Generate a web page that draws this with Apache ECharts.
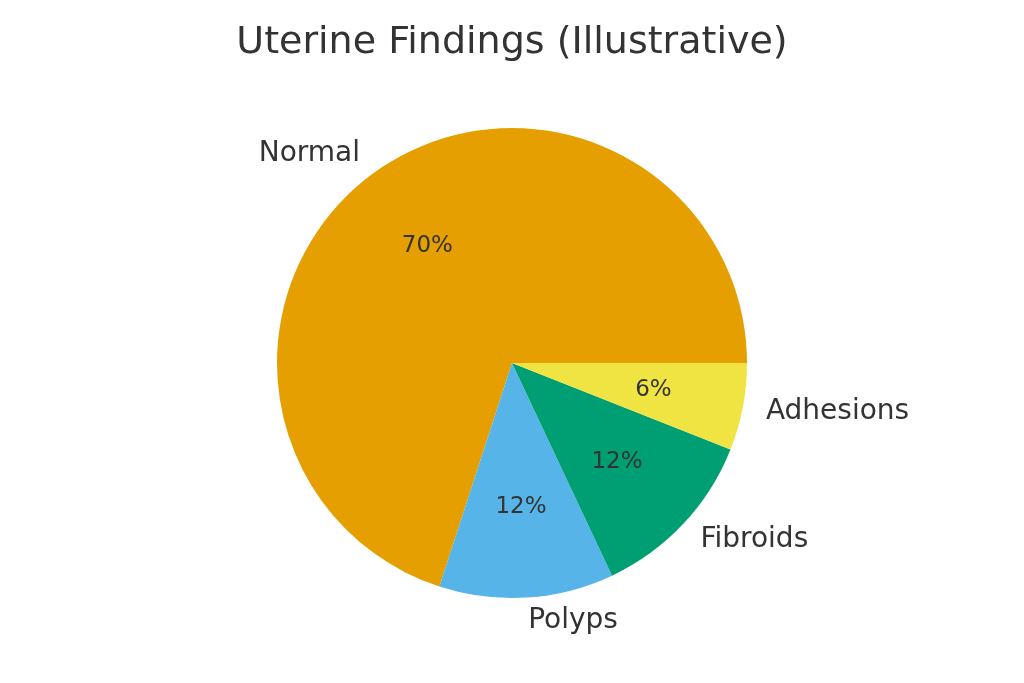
<!DOCTYPE html>
<html>
<head>
<meta charset="utf-8">
<script src="https://cdn.jsdelivr.net/npm/echarts@6/dist/echarts.min.js"></script>
<style>html,body{margin:0;padding:0;background:#fff}#c{width:1024px;height:683px}</style>
</head>
<body>
<div id="c"></div>
<script>
const categories = ['Normal', 'Polyps', 'Fibroids', 'Adhesions'];
const values = [70, 12, 12, 6];
const colors = ['#E69F00', '#56B4E9', '#009E73', '#F0E442'];
const titleText = 'Uterine Findings (Illustrative)';

const R = 235;
const center = [512, 363];
const font = 'DejaVu Sans';

const mainData = categories.map((name, i) => ({
  name, value: values[i], itemStyle: { color: colors[i] }
}));
const pctData = categories.map((name, i) => ({
  name, value: values[i], itemStyle: { color: 'rgba(0,0,0,0)' }
}));

const chart = echarts.init(document.getElementById('c'), null, { renderer: 'canvas' });
chart.setOption({
  animation: false,
  backgroundColor: '#ffffff',
  title: {
    text: titleText,
    left: 'center',
    top: 19,
    textStyle: { fontFamily: font, fontSize: 38, fontWeight: 'normal', color: '#333333' }
  },
  series: [
    {
      type: 'pie',
      center: center,
      radius: [0, R],
      startAngle: 0,
      clockwise: false,
      avoidLabelOverlap: false,
      silent: true,
      data: mainData,
      itemStyle: { borderWidth: 0 },
      label: {
        show: true,
        position: 'outside',
        formatter: '{b}',
        fontFamily: font,
        fontSize: 28,
        color: '#333333',
        distanceToLabelLine: 0
      },
      labelLine: { show: false, length: R * 0.1, length2: 0 }
    },
    {
      type: 'pie',
      center: center,
      radius: [0, R * 1.2],
      startAngle: 0,
      clockwise: false,
      avoidLabelOverlap: false,
      silent: true,
      percentPrecision: 0,
      data: pctData,
      itemStyle: { borderWidth: 0 },
      label: {
        show: true,
        position: 'inside',
        formatter: '{d}%',
        fontFamily: font,
        fontSize: 23,
        color: '#333333'
      },
      labelLine: { show: false }
    }
  ]
});
</script>
</body>
</html>
